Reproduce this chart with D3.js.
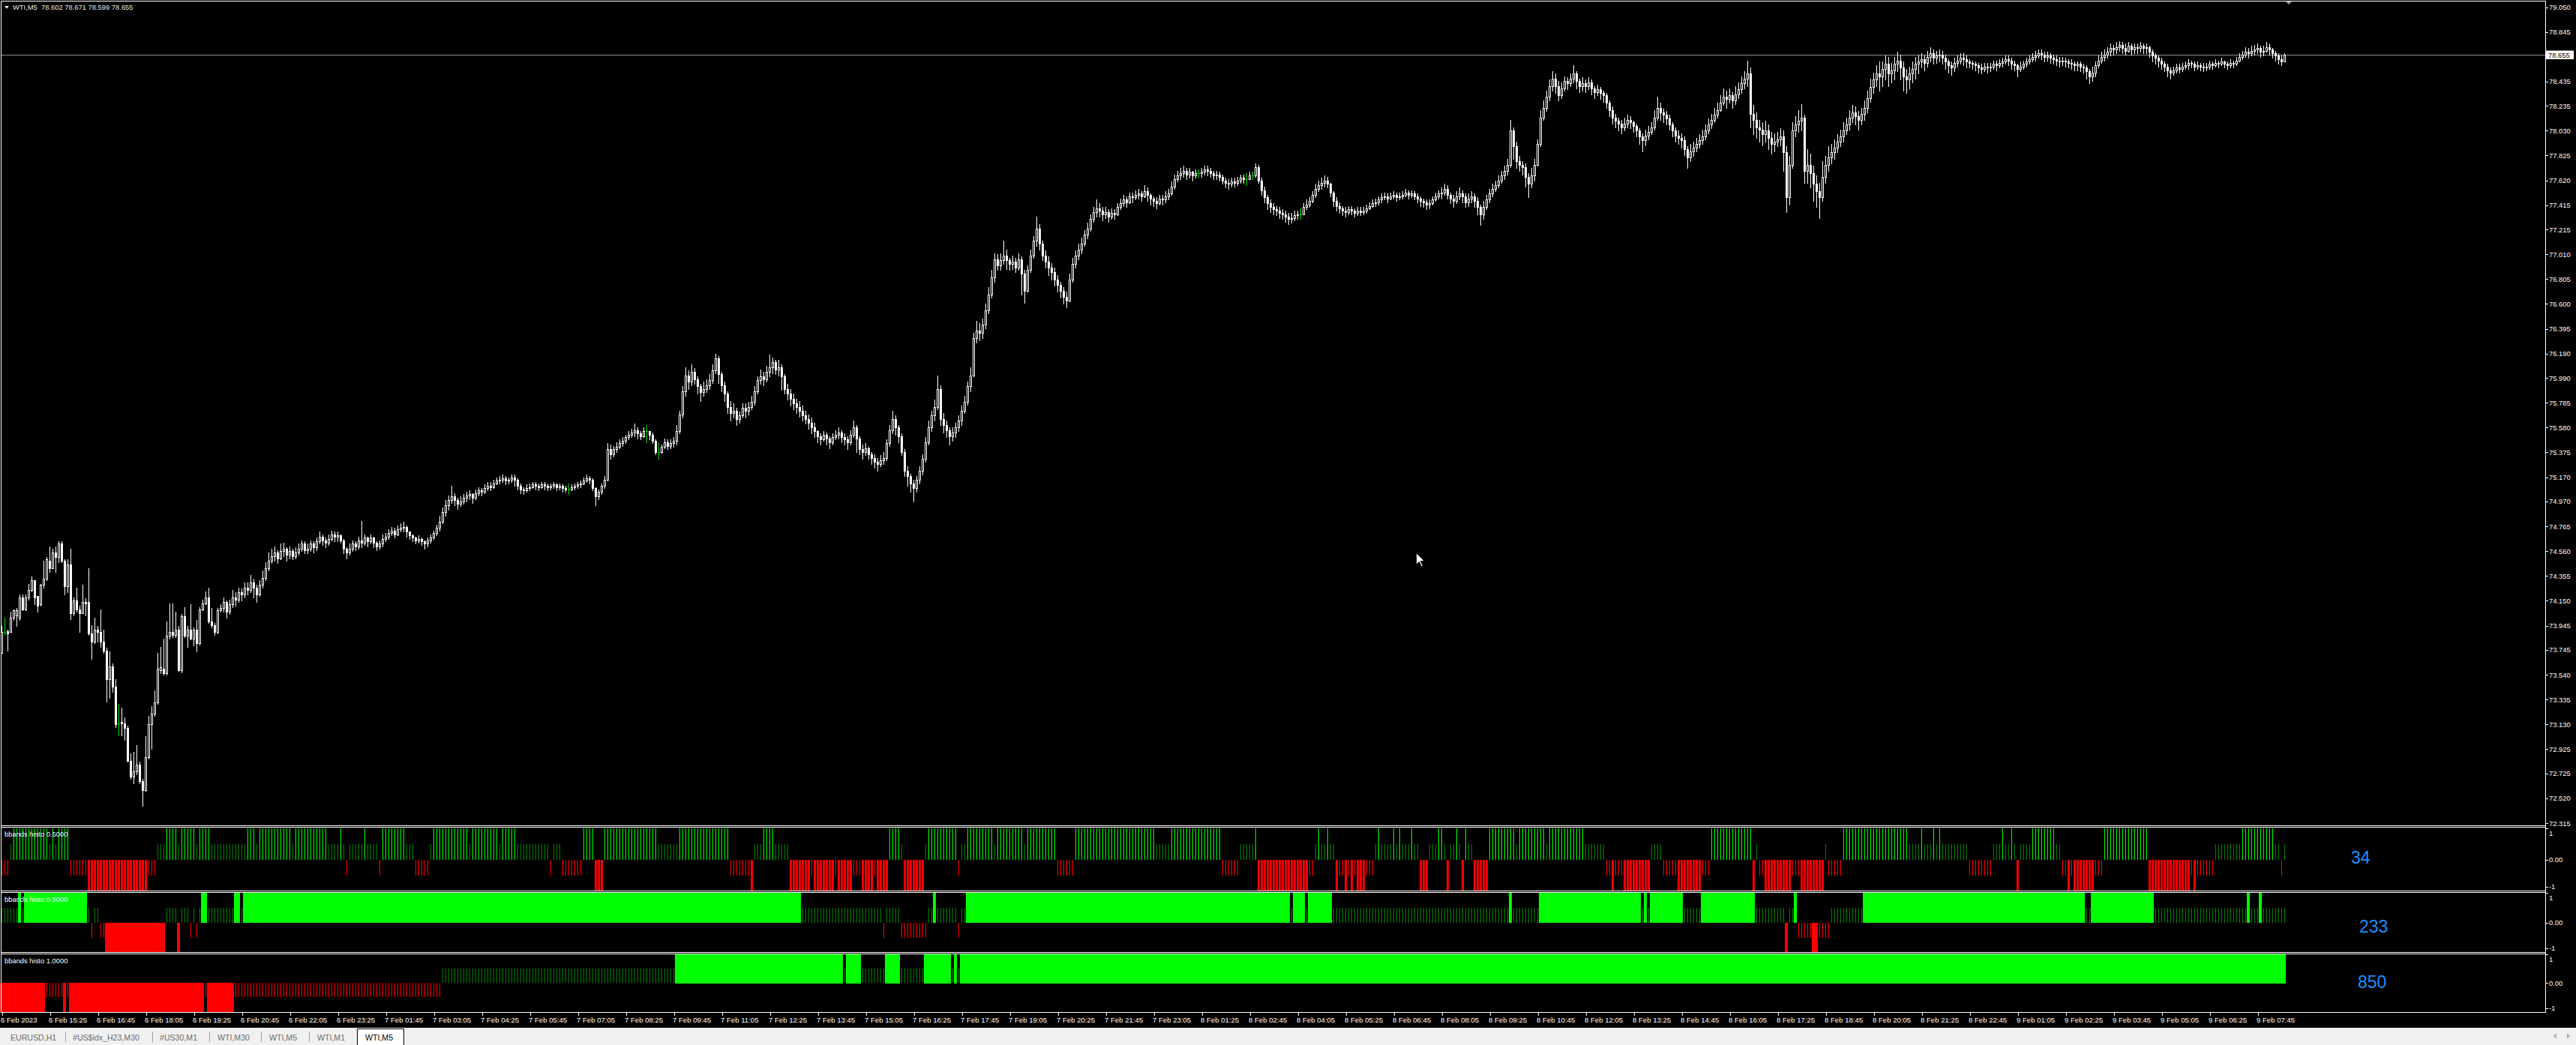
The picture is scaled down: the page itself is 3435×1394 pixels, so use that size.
<!DOCTYPE html>
<meta charset="utf-8">
<style>
    body {
        margin: 0;
        background-color: #000;
        overflow: hidden;
    }

    svg {
        display: block;
        font-family: "Liberation Sans", Arial, sans-serif;
    }
</style>

<body>
    <script src="https://cdn.jsdelivr.net/npm/d3@7"></script>
    <script>
        var W = 3435,
            H = 1394;

        // WTI M5 candles, one per bar, in cents above PRICE_BASE
        var PRICE_BASE = 72;

        var openC = [
            172,189,190,189,201,203,201,218,208,218,224,232,219,212,228,233,
            248,242,255,251,262,248,227,245,205,215,208,205,214,214,188,181,
            191,189,181,174,150,161,144,114,115,114,110,83,70,74,80,66,
            59,86,113,122,131,158,159,155,186,189,187,191,158,202,186,191,
            184,191,180,208,213,218,198,195,189,207,209,214,206,212,218,216,
            222,220,226,224,230,226,220,228,234,242,248,252,255,250,256,258,
            253,256,252,255,258,262,257,258,262,259,264,268,265,263,266,270,
            268,269,265,258,255,258,262,260,265,263,267,264,267,263,260,262,
            266,268,271,273,270,274,275,276,272,269,267,265,266,264,262,265,
            267,271,275,280,288,294,298,301,298,295,297,300,302,303,300,304,
            306,305,308,310,309,312,314,315,316,314,315,317,315,310,307,306,
            308,309,311,310,309,311,310,309,310,311,309,310,308,307,307,309,
            310,311,312,314,316,315,308,301,305,310,315,340,336,340,342,345,
            347,350,352,354,356,353,351,355,355,352,347,338,338,342,346,343,
            345,347,355,369,388,401,396,404,398,392,387,390,393,397,405,415,
            402,393,386,375,370,372,365,368,374,372,375,379,388,397,400,398,
            404,408,412,406,408,400,390,386,382,378,375,372,368,365,362,358,
            355,351,348,352,349,346,350,352,354,350,348,346,352,358,349,340,
            338,341,336,333,330,328,331,333,345,356,365,358,351,338,322,318,
            312,308,315,322,332,346,358,368,375,390,365,360,356,351,354,358,
            364,372,379,392,401,432,438,436,443,455,468,482,497,492,496,500,
            496,493,495,490,497,485,471,488,500,512,522,510,500,495,490,486,
            480,476,471,466,463,480,493,500,505,510,517,522,530,536,539,537,
            534,536,532,535,534,540,543,546,544,549,548,550,551,549,553,550,
            547,545,543,547,546,549,551,557,563,566,568,570,567,569,566,568,
            568,569,571,570,568,566,567,565,562,560,559,561,560,562,564,563,
            563,566,566,573,562,554,548,543,540,538,537,535,534,532,530,531,
            533,534,534,540,542,545,550,555,558,560,562,559,552,545,541,539,
            537,536,538,537,535,537,536,537,539,541,543,544,546,548,549,547,
            549,550,548,549,550,552,550,551,549,547,545,544,542,543,546,549,
            551,552,555,550,547,545,549,551,549,544,547,549,545,540,534,540,
            546,551,555,558,562,566,570,575,603,590,578,575,573,565,559,566,
            575,592,614,622,631,640,646,640,632,638,644,642,646,650,644,640,
            642,640,643,638,635,637,634,632,626,620,614,611,609,606,609,612,
            610,607,603,598,595,599,602,606,614,622,618,616,613,608,603,599,
            597,595,588,581,586,589,592,595,598,603,608,612,616,620,626,631,
            629,632,628,633,637,642,646,650,617,612,606,604,600,603,597,592,
            594,596,598,585,548,575,603,608,611,614,570,575,568,559,553,548,
            565,575,581,585,589,594,598,603,608,614,618,615,612,617,622,630,
            639,645,650,648,654,658,650,653,658,661,655,648,645,650,654,658,
            660,662,659,664,667,663,665,666,663,660,657,655,659,661,663,662,
            660,659,658,657,655,654,656,655,656,658,657,659,660,662,661,658,
            657,654,656,658,660,662,664,665,667,666,664,665,663,662,661,660,
            661,660,659,658,657,658,656,655,652,648,651,657,661,664,666,668,
            671,670,672,674,671,669,673,670,672,671,673,671,672,668,665,663,
            661,658,656,653,651,653,655,654,656,657,659,658,656,657,656,655,
            656,658,657,659,658,660,658,657,659,658,661,664,666,668,667,669,
            670,671,668,669,672,670,667,665,662,660.2
        ];

        var highC = [
            194,201,191,206,208,209,220,220,220,229,235,232,219,229,248,251,
            260,258,260,264,264,249,249,258,218,226,211,228,217,242,195,201,
            194,208,191,176,173,163,150,130,127,119,112,89,90,96,82,68,
            103,120,128,141,172,177,184,198,213,213,206,194,204,210,194,212,
            193,199,210,216,223,226,209,197,209,212,218,215,216,224,222,226,
            225,230,230,236,233,228,232,240,247,255,258,260,257,262,263,259,
            260,258,259,262,265,264,262,265,264,267,272,270,267,270,273,272,
            272,270,266,259,262,265,264,268,281,270,268,270,268,264,265,270,
            271,274,276,275,277,279,280,277,272,270,268,269,267,265,267,270,
            273,278,285,292,298,302,310,304,300,301,303,305,306,304,307,309,
            308,311,313,313,315,317,318,319,318,317,319,319,316,312,309,311,
            312,313,313,312,313,313,312,312,313,312,312,311,310,312,311,312,
            313,314,317,319,318,316,309,307,312,318,345,344,343,346,348,350,
            352,355,357,361,358,355,358,360,355,354,348,345,344,349,348,348,
            350,360,372,392,408,405,410,407,400,394,396,398,402,410,419,417,
            404,396,388,380,378,374,371,378,378,379,384,392,400,406,404,409,
            418,416,414,414,410,402,394,390,386,382,380,376,372,369,366,362,
            356,353,355,354,351,353,356,358,356,353,351,356,364,360,351,344,
            345,342,338,336,333,335,338,348,360,372,368,360,353,340,326,320,
            315,318,326,336,350,364,372,381,401,393,370,364,358,358,362,368,
            376,384,396,408,436,446,444,448,460,474,488,502,501,502,512,505,
            498,500,498,502,499,488,492,505,516,532,526,512,504,499,494,490,
            484,478,474,470,485,498,504,510,515,521,527,534,540,546,543,540,
            540,538,539,538,543,547,550,549,552,552,554,555,553,558,556,551,
            549,548,550,550,553,555,561,567,570,572,574,572,572,570,571,571,
            572,574,574,572,570,570,569,567,564,563,564,564,565,567,567,568,
            569,569,576,575,564,557,550,546,543,541,540,538,537,535,535,537,
            537,539,543,546,548,553,559,562,564,566,565,560,553,548,544,541,
            540,541,541,539,540,540,540,542,544,546,547,549,551,552,551,552,
            553,552,552,553,555,554,554,553,551,549,547,546,546,549,552,554,
            556,559,558,552,550,553,556,554,551,551,553,551,548,542,545,550,
            555,559,562,566,570,574,580,612,606,594,582,578,576,568,572,580,
            596,620,628,636,645,652,650,644,643,648,647,650,657,652,646,647,
            645,647,645,640,641,639,636,634,628,623,617,614,612,614,616,615,
            611,609,605,601,604,607,610,620,631,626,621,619,616,610,606,603,
            601,598,590,592,594,597,600,604,608,613,617,622,626,632,638,636,
            638,635,640,643,648,652,661,655,624,618,612,610,611,608,602,601,
            602,605,603,590,582,610,615,620,625,616,588,584,574,566,560,578,
            582,590,592,596,600,604,610,614,620,624,623,619,622,628,636,646,
            651,657,660,660,665,664,659,664,668,666,660,654,656,660,664,666,
            667,666,669,672,670,669,670,669,666,662,660,663,665,667,667,665,
            662,661,660,659,658,659,659,659,661,661,662,663,665,665,663,661,
            658,660,661,663,665,667,669,670,670,668,668,667,666,665,664,664,
            663,662,662,660,660,660,658,657,654,656,660,665,668,670,672,675,
            674,676,677,676,675,676,675,675,675,676,675,675,673,670,667,665,
            663,660,658,655,656,658,658,659,660,662,661,660,660,659,659,659,
            661,660,662,661,663,661,660,662,661,664,667,669,672,671,673,674,
            675,673,673,676,675,671,669,667,665,667.1
        ];

        var lowC = [
            172,187,174,189,199,194,199,207,207,216,223,212,206,211,226,232,
            239,242,239,247,247,220,222,200,203,206,189,205,203,187,167,180,
            181,177,172,132,135,140,111,104,104,100,82,68,64,72,64,46,
            58,85,93,120,130,155,154,154,184,185,185,157,156,185,177,183,
            178,173,179,207,212,197,193,187,188,206,206,201,204,210,211,214,
            215,218,220,222,218,214,219,226,232,240,246,248,246,249,252,248,
            250,249,250,253,256,254,254,256,255,257,262,261,259,261,265,264,
            264,263,254,250,253,256,257,258,259,261,260,262,259,257,258,260,
            264,266,269,267,269,272,272,268,266,264,262,263,261,258,260,263,
            266,269,273,279,285,290,296,294,291,293,295,297,299,296,299,302,
            302,304,306,306,308,311,312,313,311,312,313,310,307,304,303,305,
            306,308,307,306,308,307,306,307,308,306,307,305,305,303,306,307,
            308,309,311,313,312,306,294,299,303,308,314,332,334,338,341,343,
            345,348,350,351,349,348,350,346,348,345,336,332,337,341,340,341,
            342,344,353,366,384,390,393,394,386,380,384,387,390,395,403,395,
            388,380,370,364,366,360,362,366,366,369,373,377,386,394,393,396,
            400,403,402,401,389,386,381,376,373,370,367,364,361,357,353,350,
            346,344,347,344,341,344,348,349,346,344,340,344,350,338,336,332,
            335,332,328,325,322,326,328,331,343,353,352,346,335,318,310,305,
            297,305,312,319,330,344,355,364,373,360,354,350,344,347,350,355,
            360,370,377,388,400,428,430,432,440,452,465,478,488,488,493,489,
            488,489,486,488,468,461,470,486,498,508,505,496,490,484,480,475,
            470,465,460,457,462,478,490,497,502,508,514,520,528,532,532,529,
            531,528,530,530,533,538,541,540,543,544,546,547,545,548,545,542,
            541,539,542,542,544,546,550,555,561,563,565,563,564,562,564,565,
            565,567,566,565,563,563,562,559,556,555,557,557,558,560,560,558,
            563,563,565,560,550,544,538,536,534,533,531,530,528,526,527,529,
            530,530,534,538,540,544,548,553,555,557,556,549,541,537,535,533,
            532,534,534,532,533,533,534,535,538,540,541,542,544,546,544,546,
            547,545,546,547,549,547,548,546,544,541,540,538,539,542,545,547,
            547,550,547,543,540,543,546,544,540,541,544,540,534,525,530,538,
            544,549,553,556,560,563,567,573,580,572,570,567,557,548,556,562,
            574,590,612,619,628,636,634,628,630,636,637,640,643,638,635,636,
            635,637,633,630,632,629,627,622,615,609,606,603,601,603,606,605,
            602,598,592,586,591,596,600,604,612,612,610,608,604,598,594,592,
            589,583,572,578,582,586,589,592,596,601,605,610,614,619,624,622,
            626,622,625,630,634,638,640,606,600,597,594,591,594,588,584,586,
            590,591,570,536,542,572,598,602,603,560,560,556,545,540,531,545,
            560,570,576,580,585,590,594,600,604,610,608,604,608,612,618,627,
            634,640,636,640,645,640,643,645,652,645,636,634,638,643,646,650,
            655,653,656,660,658,659,660,658,654,651,649,652,656,658,657,655,
            655,654,653,651,650,652,651,652,654,653,655,656,658,657,654,653,
            648,652,654,656,658,660,661,663,662,660,661,659,658,657,656,657,
            656,655,654,653,653,652,651,646,642,644,648,655,659,661,663,665,
            666,667,669,667,666,668,666,667,667,668,667,667,664,660,658,656,
            654,652,648,646,649,651,651,652,654,654,655,653,654,653,652,653,
            654,654,656,655,657,655,654,655,655,657,660,662,664,663,665,666,
            667,664,665,668,666,663,661,658,657,659.9
        ];

        var closeC = [
            189,189,188,201,207,207,218,208,218,224,232,218,211,228,233,249,
            242,255,251,262,248,227,245,205,215,208,205,214,213,188,181,191,
            189,181,174,150,161,144,113,114,114,110,83,70,74,80,66,59,
            86,113,122,131,159,160,155,186,189,187,191,158,202,186,191,184,
            191,180,208,213,218,198,195,189,207,209,214,206,212,218,216,222,
            220,226,224,230,226,220,228,234,242,248,252,255,250,256,258,253,
            256,252,255,258,262,257,258,262,259,264,268,265,263,266,270,268,
            269,265,258,255,258,262,260,265,263,267,264,267,263,260,262,266,
            268,271,273,270,274,275,276,272,269,267,265,266,264,262,265,267,
            271,275,280,288,294,298,301,298,295,297,300,302,303,300,304,306,
            305,308,310,309,312,314,315,316,314,315,317,315,310,307,306,308,
            309,311,310,309,311,310,309,310,311,309,310,308,307,307,309,310,
            311,312,314,316,315,308,301,305,310,315,340,336,340,342,345,347,
            350,352,354,356,353,351,355,355,352,347,338,338,342,346,343,345,
            347,355,369,388,401,396,404,398,392,387,390,393,397,405,415,402,
            393,386,375,370,372,365,368,374,372,375,379,388,397,400,398,404,
            408,412,406,408,400,390,386,382,378,375,372,368,365,362,358,355,
            351,348,352,349,346,350,352,354,350,348,346,352,358,349,340,338,
            341,336,333,330,328,331,333,345,356,365,358,351,338,322,318,312,
            308,315,322,332,346,358,368,375,390,365,360,356,351,354,358,364,
            372,379,392,401,432,438,436,443,455,468,482,497,492,496,500,496,
            493,495,490,497,485,471,488,500,512,522,510,500,495,490,486,480,
            476,471,466,463,480,493,500,505,510,517,522,530,536,539,537,534,
            536,532,535,534,540,543,546,544,549,548,550,551,549,553,550,547,
            545,543,547,546,549,551,557,563,566,568,570,567,569,566,568,568,
            569,571,570,568,566,567,565,562,560,559,561,560,562,564,563,563,
            566,566,573,562,554,548,543,540,538,537,535,534,532,530,531,533,
            534,534,540,542,545,550,555,558,560,562,559,552,545,541,539,537,
            536,538,537,535,537,536,537,539,541,543,544,546,548,549,547,549,
            550,548,549,550,552,550,551,549,547,545,544,542,543,546,549,551,
            552,555,550,547,545,549,551,549,544,547,549,545,540,534,540,546,
            551,555,558,562,566,570,575,603,590,578,575,573,565,559,566,575,
            592,614,622,631,640,646,640,632,638,644,642,646,650,644,640,642,
            640,643,638,635,637,634,632,626,620,614,611,609,606,609,612,610,
            607,603,598,595,599,602,606,614,622,618,616,613,608,603,599,597,
            595,588,581,586,589,592,595,598,603,608,612,616,620,626,631,629,
            632,628,633,637,642,646,650,617,612,606,604,600,603,597,592,594,
            596,598,585,548,575,603,608,611,614,570,575,568,559,553,548,565,
            575,581,585,589,594,598,603,608,614,618,615,612,617,622,630,639,
            645,650,648,654,658,650,653,658,661,655,648,645,650,654,658,660,
            662,659,664,667,663,665,666,663,660,657,655,659,661,663,662,660,
            659,658,657,655,654,656,655,656,658,657,659,660,662,661,658,657,
            654,656,658,660,662,664,665,667,666,664,665,663,662,661,660,661,
            660,659,658,657,658,656,655,652,648,651,657,661,664,666,668,671,
            670,672,674,671,669,673,670,672,671,673,671,672,668,665,663,661,
            658,656,653,651,653,655,654,656,657,659,658,656,657,656,655,656,
            658,657,659,658,660,658,657,659,658,661,664,666,668,667,669,670,
            671,668,669,672,670,667,665,662,660.2,665.5
        ];

        var priceTicks = [79.050, 78.845, 78.435, 78.235, 78.030, 77.825, 77.620, 77.415, 77.215, 77.010,
            76.805, 76.600, 76.395, 76.190, 75.990, 75.785, 75.580, 75.375, 75.170, 74.970, 74.765,
            74.560, 74.355, 74.150, 73.945, 73.745, 73.540, 73.335, 73.130, 72.925, 72.725, 72.520, 72.315];
        var lastPrice = 78.655;
        var symbolName = "WTI,M5";
        var lastBarOHLC = ["78.602", "78.671", "78.599", "78.655"];

        var barsPerLabel = 16;
        var timeLabels = ["6 Feb 2023", "6 Feb 15:25", "6 Feb 16:45", "6 Feb 18:05", "6 Feb 19:25", "6 Feb 20:45",
            "6 Feb 22:05", "6 Feb 23:25", "7 Feb 01:45", "7 Feb 03:05", "7 Feb 04:25", "7 Feb 05:45", "7 Feb 07:05",
            "7 Feb 08:25", "7 Feb 09:45", "7 Feb 11:05", "7 Feb 12:25", "7 Feb 13:45", "7 Feb 15:05", "7 Feb 16:25",
            "7 Feb 17:45", "7 Feb 19:05", "7 Feb 20:25", "7 Feb 21:45", "7 Feb 23:05", "8 Feb 01:25", "8 Feb 02:45",
            "8 Feb 04:05", "8 Feb 05:25", "8 Feb 06:45", "8 Feb 08:05", "8 Feb 09:25", "8 Feb 10:45", "8 Feb 12:05",
            "8 Feb 13:25", "8 Feb 14:45", "8 Feb 16:05", "8 Feb 17:25", "8 Feb 18:45", "8 Feb 20:05", "8 Feb 21:25",
            "8 Feb 22:45", "9 Feb 01:05", "9 Feb 02:25", "9 Feb 03:45", "9 Feb 05:05", "9 Feb 06:25", "9 Feb 07:45"];

        // histogram panels, run-length: [value, number of bars]
        var histo1Runs = [[-0.5,3],[0.5,1],[1,12],[0.5,1],[1,1],[0.5,1],[1,4],[-0.5,6],[-1,20],[-0.5,3],[0.5,3],[1,4],
            [0.5,1],[1,5],[0.5,1],[1,4],[0.5,12],[1,3],[0.5,1],[1,11],[0.5,1],[1,11],[0.5,4],[1,1],[0.5,1],[-0.5,1],
            [0.5,5],[1,1],[0.5,4],[-0.5,1],[1,8],[0.5,3],[-0.5,5],[0.5,1],[1,12],[0.5,1],[1,9],[0.5,1],[1,5],[0.5,11],
            [-0.5,1],[0.5,3],[-0.5,7],[1,4],[-1,3],[1,18],[0.5,7],[1,17],[-0.5,7],[-1,1],[0.5,3],[1,4],[0.5,5],[-1,7],
            [-0.5,1],[-1,7],[-0.5,1],[-1,5],[-0.5,3],[-1,4],[-0.5,1],[-1,4],[1,4],[0.5,1],[-1,7],[0.5,1],[1,10],[-0.5,1],
            [0.5,2],[1,9],[0.5,1],[1,9],[0.5,1],[1,10],[-0.5,6],[1,27],[0.5,5],[1,17],[-0.5,6],[0.5,5],[1,1],[-1,17],
            [-0.5,2],[0.5,1],[1,1],[0.5,2],[1,1],[0.5,2],[-1,1],[-0.5,2],[-1,1],[-0.5,1],[-1,1],[-0.5,1],[-1,3],[-0.5,3],
            [0.5,1],[1,1],[0.5,4],[1,1],[0.5,1],[1,1],[0.5,3],[1,1],[0.5,2],[-1,3],[0.5,3],[1,2],[0.5,1],[-1,1],[0.5,2],
            [1,1],[0.5,1],[-1,1],[1,1],[0.5,2],[-1,5],[1,9],[0.5,1],[1,9],[0.5,1],[1,12],[0.5,7],[-0.5,2],[-1,1],[-0.5,3],
            [-1,9],[0.5,4],[-0.5,5],[-1,8],[-0.5,3],[1,14],[-1,1],[0.5,1],[-0.5,2],[-1,9],[-0.5,3],[-1,8],[0.5,1],[-0.5,5],
            [1,22],[0.5,4],[1,1],[0.5,3],[1,1],[0.5,1],[1,1],[0.5,9],[-0.5,8],[0.5,3],[1,1],[0.5,2],[1,1],[0.5,1],[-1,1],
            [0.5,4],[1,8],[0.5,2],[-0.5,2],[-1,1],[-0.5,1],[-1,7],[-0.5,3],[1,15],[-1,14],[-0.5,1],[-1,1],[-0.5,6],[0.5,9],
            [1,11],[0.5,2],[-0.5,1],[0.5,1]];
        var histo2Runs = [[0.5,6],[1,1],[0.5,1],[1,21],[0.5,1],[-0.5,1],[0.5,2],[-0.5,2],[-1,20],[0.5,4],[-1,1],[0.5,3],
            [-0.5,1],[0.5,1],[-0.5,1],[0.5,1],[1,2],[0.5,9],[1,2],[0.5,1],[1,186],[0.5,27],[-0.5,1],[0.5,5],[-0.5,9],
            [0.5,2],[1,1],[0.5,7],[-0.5,1],[0.5,2],[1,108],[0.5,1],[1,4],[0.5,1],[1,8],[0.5,59],[1,1],[0.5,9],[1,34],
            [0.5,1],[1,1],[0.5,1],[1,11],[0.5,6],[1,18],[0.5,10],[-1,1],[0.5,2],[1,1],[-0.5,5],[-1,2],[-0.5,4],[0.5,11],
            [1,74],[0.5,2],[1,21],[0.5,31],[1,1],[0.5,3],[1,1],[0.5,8]];
        var histo3Runs = [[-1,15],[-0.5,6],[-1,1],[-0.5,1],[-1,45],[-0.5,1],[-1,9],[-0.5,69],[0.5,78],[1,56],[0.5,1],
            [1,5],[0.5,8],[1,5],[0.5,8],[1,9],[0.5,1],[1,1],[0.5,1],[1,442]];

        var panelTitles = ["bbands histo 0.5000", "bbands histo 0.5000", "bbands histo 1.0000"];
        var panelCounts = ["34", "233", "850"];
        var tabNames = ["EURUSD,H1", "#US$idx_H23,M30", "#US30,M1", "WTI,M30", "WTI,M5", "WTI,M1", "WTI,M5"];

        var svg = d3.select("body").append("svg")
            .attr("width", W)
            .attr("height", H);

        svg.append("rect").attr("width", W).attr("height", H).attr("fill", "#000");

        var n = closeC.length;
        var x = d3.scaleLinear().domain([0, n - 1]).range([2, 2 + 4 * (n - 1)]);
        var y = d3.scaleLinear().domain([72.315, 79.05]).range([1098, 9.5]);

        var candles = d3.range(n).map(function(i) {
            return {
                i: i,
                o: PRICE_BASE + openC[i] / 100,
                h: PRICE_BASE + highC[i] / 100,
                l: PRICE_BASE + lowC[i] / 100,
                c: PRICE_BASE + closeC[i] / 100
            };
        });

        function isDoji(d) { return Math.abs(d.o - d.c) < 0.004; }

        // current price line sits behind the bars
        var yLast = Math.round(y(lastPrice)) + 0.5;
        svg.append("line")
            .attr("x1", 2).attr("x2", 3394)
            .attr("y1", yLast).attr("y2", yLast)
            .attr("stroke", "#8a939e");

        var cg = svg.append("g").attr("shape-rendering", "crispEdges");

        cg.selectAll(".wick")
            .data(candles)
            .join("line").attr("class", "wick")
            .attr("x1", d => x(d.i) + 0.5)
            .attr("x2", d => x(d.i) + 0.5)
            .attr("y1", d => Math.round(y(Math.max(d.h, d.o, d.c))))
            .attr("y2", d => Math.round(y(Math.min(d.l, d.o, d.c))) + 1)
            .attr("stroke", d => isDoji(d) ? "#00e000" : "#fff");

        cg.selectAll(".body")
            .data(candles)
            .join("rect").attr("class", "body")
            .each(function(d) {
                var t = Math.round(y(Math.max(d.o, d.c))),
                    b = Math.round(y(Math.min(d.o, d.c))),
                    r = d3.select(this);
                if (isDoji(d)) {
                    r.attr("x", x(d.i) - 1).attr("y", t).attr("width", 3).attr("height", 1).attr("fill", "#00e000");
                } else if (d.c > d.o && b - t >= 2) {
                    // bull candle: hollow
                    r.attr("x", x(d.i) - 0.5).attr("y", t + 0.5).attr("width", 2).attr("height", b - t)
                        .attr("fill", "#000").attr("stroke", "#fff");
                } else {
                    r.attr("x", x(d.i) - 1).attr("y", t).attr("width", 3).attr("height", b - t + 1).attr("fill", "#fff");
                }
            });

        // indicator panels
        function expand(runs) {
            var out = [];
            runs.forEach(function(r) {
                for (var k = 0; k < r[1]; k++) out.push(r[0]);
            });
            return out;
        }

        var panels = [
            { runs: histo1Runs, top: 1103.5, bottom: 1188.5, yMin: 1188, yMax: 1105, thin: v => v !== -1, thickW: 3 },
            { runs: histo2Runs, top: 1190.5, bottom: 1270.5, yMin: 1270, yMax: 1191, thin: v => Math.abs(v) !== 1, thickW: 4 },
            { runs: histo3Runs, top: 1272.5, bottom: 1350.5, yMin: 1350, yMax: 1272.7, thin: v => Math.abs(v) !== 1, thickW: 4 }
        ];

        panels.forEach(function(p, k) {
            var ys = d3.scaleLinear().domain([-1, 1]).range([p.yMin, p.yMax]);
            var vals = expand(p.runs).map((v, i) => ({ i: i, v: v }));
            var g = svg.append("g").attr("shape-rendering", "crispEdges");
            g.selectAll("rect")
                .data(vals)
                .join("rect")
                .attr("x", d => p.thin(d.v) ? x(d.i) : x(d.i) - (p.thickW === 4 ? 2 : 1))
                .attr("width", d => p.thin(d.v) ? 1 : p.thickW)
                .attr("y", d => Math.round(Math.min(ys(0), ys(d.v))))
                .attr("height", d => Math.round(Math.abs(ys(d.v) - ys(0))))
                .attr("fill", d => d.v === 1 ? "#00ff00" : d.v === 0.5 ? "#008000" : "#ff0000");

            svg.append("text")
                .attr("x", 6)
                .attr("y", p.top + 9)
                .attr("dominant-baseline", "central")
                .attr("fill", "#fff")
                .style("font-size", "9.4px")
                .text(panelTitles[k]);

            // right scale of the panel
            var marks = [
                { label: "1", ty: ys(1) + 6.5, tk: ys(1) },
                { label: "0.00", ty: ys(0), tk: ys(0) },
                { label: "-1", ty: ys(-1) - 5.5, tk: ys(-1) - 5 }
            ];
            marks.forEach(function(m) {
                svg.append("line")
                    .attr("x1", 3395).attr("x2", 3398)
                    .attr("y1", Math.round(m.tk) + 0.5).attr("y2", Math.round(m.tk) + 0.5)
                    .attr("stroke", "#fff");
                svg.append("text")
                    .attr("x", 3399).attr("y", m.ty)
                    .attr("dominant-baseline", "central")
                    .attr("fill", "#fff")
                    .style("font-size", "9.4px")
                    .text(m.label);
            });
        });

        svg.append("text").attr("x", 3135).attr("y", 1151.5).attr("fill", "#1e90ff").style("font-size", "23px").text(panelCounts[0]);
        svg.append("text").attr("x", 3146).attr("y", 1244).attr("fill", "#1e90ff").style("font-size", "23px").text(panelCounts[1]);
        svg.append("text").attr("x", 3144).attr("y", 1317.5).attr("fill", "#1e90ff").style("font-size", "23px").text(panelCounts[2]);

        // frames
        var frame = svg.append("g").attr("stroke", "#fff").attr("shape-rendering", "crispEdges");
        [1.5, 1101.5, 1103.5, 1188.5, 1190.5, 1270.5, 1272.5, 1350.5].forEach(function(yy) {
            frame.append("line").attr("x1", 1).attr("x2", 3395).attr("y1", yy).attr("y2", yy);
        });
        frame.append("line").attr("x1", 1.5).attr("x2", 1.5).attr("y1", 1).attr("y2", 1351);
        frame.append("line").attr("x1", 3394.5).attr("x2", 3394.5).attr("y1", 1).attr("y2", 1351);

        // price axis
        var pa = svg.append("g")
            .attr("transform", "translate(3394.5,0)")
            .call(d3.axisRight(y).tickValues(priceTicks).tickFormat(d3.format(".3f")).tickSize(3).tickPadding(1.5));
        pa.select(".domain").remove();
        pa.attr("font-family", null).attr("font-size", null);
        pa.selectAll("line").attr("stroke", "#fff").attr("shape-rendering", "crispEdges");
        pa.selectAll("text").attr("fill", "#fff").style("font-size", "9.4px");

        // last price box
        svg.append("rect").attr("x", 3395).attr("y", 67.5).attr("width", 37).attr("height", 11.5).attr("fill", "#fff");
        svg.append("text").attr("x", 3398).attr("y", yLast)
            .attr("dominant-baseline", "central").attr("fill", "#000")
            .style("font-size", "9.4px").text(d3.format(".3f")(lastPrice));

        // time axis
        var ta = svg.append("g")
            .attr("transform", "translate(0.5,1351)")
            .call(d3.axisBottom(x)
                .tickValues(timeLabels.map((t, k) => k * barsPerLabel))
                .tickFormat((d, k) => timeLabels[k])
                .tickSize(4).tickPadding(2));
        ta.select(".domain").remove();
        ta.attr("font-family", null).attr("font-size", null);
        ta.selectAll("line").attr("stroke", "#fff").attr("shape-rendering", "crispEdges");
        ta.selectAll("text").attr("fill", "#fff").attr("text-anchor", "start").attr("x", -2)
            .style("font-size", "9.6px");

        // header
        svg.append("path").attr("d", "M6,8 L12,8 L9,11.5 Z").attr("fill", "#fff");
        svg.append("text").attr("x", 17).attr("y", 9.5)
            .attr("dominant-baseline", "central").attr("fill", "#e8e8e8")
            .style("font-size", "9.4px").attr("xml:space", "preserve")
            .text(symbolName + "  " + lastBarOHLC.join(" "));

        // chart shift marker
        svg.append("path").attr("d", "M3048,2 L3056,2 L3052,6 Z").attr("fill", "#9a9a9a");

        // mouse pointer
        svg.append("path")
            .attr("d", "M1888.5,737.5 L1888.5,753.5 L1892.5,749.5 L1895.5,756 L1897.5,755 L1894.5,748.5 L1899.5,748.5 Z")
            .attr("fill", "#fff").attr("stroke", "#000");

        // tab bar
        svg.append("rect").attr("x", 0).attr("y", 1371).attr("width", W).attr("height", 23).attr("fill", "#f0f0f0");
        var tabX = [14, 97, 213, 290, 359, 423, 487];
        var sepX = [87, 203, 279, 348, 412];
        sepX.forEach(function(sx) {
            svg.append("line").attr("x1", sx + 0.5).attr("x2", sx + 0.5).attr("y1", 1376).attr("y2", 1390)
                .attr("stroke", "#a0a0a0");
        });
        svg.append("path").attr("d", "M476.5,1394 L476.5,1372.5 L538.5,1372.5 L538.5,1394")
            .attr("fill", "#fff").attr("stroke", "#000");
        tabNames.forEach(function(t, k) {
            svg.append("text").attr("x", tabX[k]).attr("y", 1387.5)
                .attr("fill", k === tabNames.length - 1 ? "#000" : "#6d6d6d")
                .style("font-size", "10.6px")
                .text(t);
        });
        svg.append("path").attr("d", "M3409,1378 L3405,1382 L3409,1386 Z").attr("fill", "#b0b0b0");
        svg.append("path").attr("d", "M3423,1378 L3427,1382 L3423,1386 Z").attr("fill", "#b0b0b0");
    </script>
</body>

</html>
